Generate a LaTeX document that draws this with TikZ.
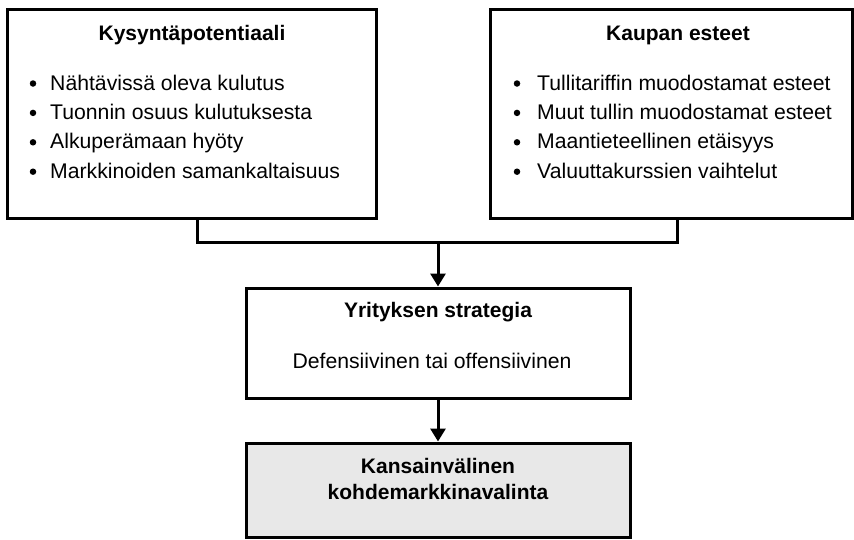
\documentclass[tikz,border=0pt]{standalone}
\usepackage{fontspec}
\setmainfont{Liberation Sans}
\usetikzlibrary{arrows.meta}
\begin{document}
\begin{tikzpicture}[x=1pt,y=-1pt,
  box/.style={draw=black, line width=3pt, inner sep=0pt},
  conn/.style={draw=black, line width=3pt},
  arrowline/.style={conn, -{Triangle[width=15pt,length=13pt]}},
  txt/.style={inner sep=0pt, font=\fontsize{21.2pt}{26pt}\selectfont},
  ttl/.style={txt, font=\fontsize{21pt}{26pt}\selectfont\bfseries},
  dot/.style={fill=black, circle, inner sep=0pt, minimum size=6.5pt}]
\useasboundingbox (0,0) rectangle (854,539);

% the four boxes
\node[box, minimum width=369pt, minimum height=209pt] (kp) at (191.5,113.5) {};
\node[box, minimum width=362pt, minimum height=209pt] (ke) at (671,113.5) {};
\node[box, minimum width=384pt, minimum height=110pt] (ys) at (438,343) {};
\node[box, fill=black!9, minimum width=384pt, minimum height=94pt] (km) at (438,490) {};

% demand potential
\node[ttl, anchor=base] (kpt) at (192,40) {Kysyntäpotentiaali};
\foreach \t [count=\i] in {Nähtävissä oleva kulutus, Tuonnin osuus kulutuksesta,
    Alkuperämaan hyöty, Markkinoiden samankaltaisuus}{
  \node[txt, anchor=base west] (kpl\i) at (50,{90+29.4*(\i-1)}) {\t};
  \node[dot] (kpd\i) at (33,{83.5+29.4*(\i-1)}) {};
}

% trade barriers
\node[ttl, anchor=base] (ket) at (678,40) {Kaupan esteet};
\foreach \t [count=\i] in {Tullitariffin muodostamat esteet, Muut tullin muodostamat esteet,
    Maantieteellinen etäisyys, Valuuttakurssien vaihtelut}{
  \node[txt, anchor=base west] (kel\i) at (537,{90+29.4*(\i-1)}) {\t};
  \node[dot] (ked\i) at (517,{83.5+29.4*(\i-1)}) {};
}

% firm strategy
\node[ttl, anchor=base] (yst) at (438,317) {Yrityksen strategia};
\node[txt, anchor=base] (ysl) at (432,368) {Defensiivinen tai offensiivinen};

% target market selection
\node[ttl, anchor=base] (kmt1) at (438,473) {Kansainvälinen};
\node[ttl, anchor=base] (kmt2) at (438,499) {kohdemarkkinavalinta};

% connectors
\coordinate (kpdrop) at (197,242);
\coordinate (kedrop) at (677,242);
\coordinate (join) at (438,242);
\draw[conn] (kp.south -| kpdrop) -- (kpdrop) -- (kedrop) -- (ke.south -| kedrop);
\draw[arrowline] (join) -- (ys.north);
\draw[arrowline] (ys.south) -- (km.north);
\end{tikzpicture}
\end{document}
